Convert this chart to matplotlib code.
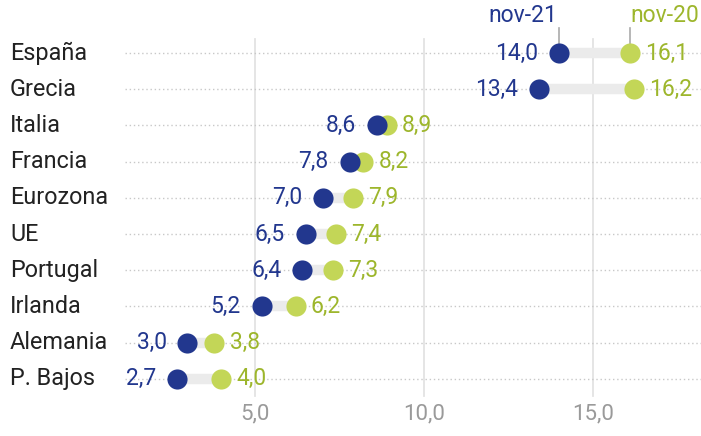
import matplotlib
matplotlib.use("Agg")
import matplotlib.pyplot as plt

countries = ["España", "Grecia", "Italia", "Francia", "Eurozona", "UE",
             "Portugal", "Irlanda", "Alemania", "P. Bajos"]
nov21 = [14.0, 13.4, 8.6, 7.8, 7.0, 6.5, 6.4, 5.2, 3.0, 2.7]
nov20 = [16.1, 16.2, 8.9, 8.2, 7.9, 7.4, 7.3, 6.2, 3.8, 4.0]
xticks = [5, 10, 15]
xtick_labels = ["5,0", "10,0", "15,0"]
series_labels = ["nov-21", "nov-20"]

BLUE = "#22378e"
GREEN_DOT = "#c3d657"
GREEN_TXT = "#9db62c"
GREY_BAR = "#ebebeb"

plt.rcParams["font.family"] = ["Roboto", "DejaVu Sans"]

W, H = 701, 436
fig = plt.figure(figsize=(W / 100, H / 100), dpi=100)
ax = fig.add_axes([0, 0, 1, 1])
ax.axis("off")

# pixel mapping
x0px, sx = 86.0, 33.8
y0px, sy = 53.0, 36.2
ax.set_xlim(-x0px / sx, (W - x0px) / sx)
ax.set_ylim((H - y0px) / sy, -y0px / sy)

def ypx(p):
    return (p - y0px) / sy

def xpx(p):
    return (p - x0px) / sx

FS = 16.5

# vertical gridlines
for t, lab in zip(xticks, xtick_labels):
    ax.plot([t, t], [ypx(39), ypx(396)], color="#e3e3e3", lw=1.3, zorder=1)
    ax.text(t, ypx(414), lab, ha="center", va="center", fontsize=16, color="#9a9a9a")

for i, (c, a, b) in enumerate(zip(countries, nov21, nov20)):
    ax.plot([xpx(125), xpx(W)], [i, i], color="#c8c8c8", lw=1, ls=(0, (1, 2)), zorder=1)
    ax.plot([a, b], [i, i], color=GREY_BAR, lw=7.5, solid_capstyle="butt", zorder=2)
    ax.plot([a], [i], "o", ms=14.5, color=BLUE, mec=BLUE, mew=0, zorder=4)
    ax.plot([b], [i], "o", ms=14.5, color=GREEN_DOT, mec=GREEN_DOT, mew=0, zorder=3)
    ax.text(xpx(10), i, c, ha="left", va="center", fontsize=16.8, color="#222222")
    ax.annotate(f"{a:.1f}".replace(".", ","), (a, i), xytext=(-15, 0),
                textcoords="offset points", ha="right", va="center",
                fontsize=FS, color=BLUE)
    ax.annotate(f"{b:.1f}".replace(".", ","), (b, i), xytext=(11, 0),
                textcoords="offset points", ha="left", va="center",
                fontsize=FS, color=GREEN_TXT)

# series labels above first row
for val, lab, col, ha in [(nov21[0], series_labels[0], BLUE, "right"),
                          (nov20[0], series_labels[1], GREEN_TXT, "left")]:
    ax.plot([val, val], [ypx(28), ypx(44)], color="#aaaaaa", lw=1.2, zorder=1)
    ax.text(val + (-0.05 if ha == "right" else 0.0), ypx(15), lab, ha=ha, va="center",
            fontsize=FS, color=col)

fig.savefig("out.png", dpi=100)
